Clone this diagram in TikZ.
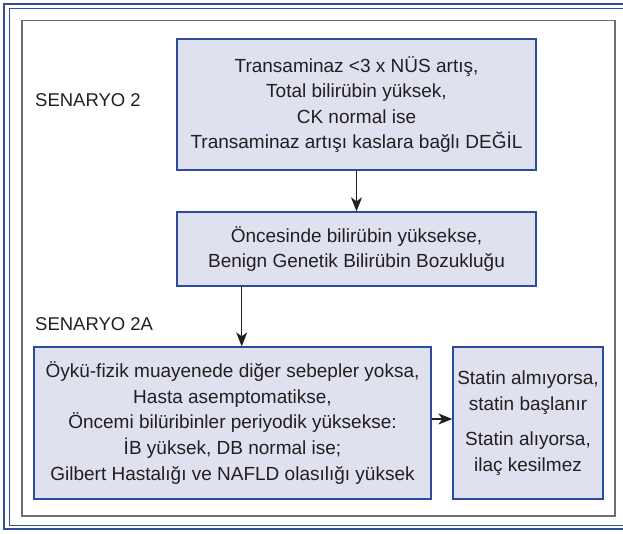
\documentclass[tikz,border=0pt]{standalone}
\usepackage{fontspec}
\setmainfont{Liberation Sans}
\usetikzlibrary{arrows.meta}
\definecolor{frameblue}{HTML}{2F4FA0}
\definecolor{boxblue}{HTML}{2C4A9E}
\definecolor{boxfill}{HTML}{DFE1EF}
\definecolor{panelgray}{HTML}{6E6E6E}
\definecolor{inktext}{HTML}{231F20}

\begin{document}
\begin{tikzpicture}[x=1pt,y=-1pt,
  box/.style={draw=boxblue, line width=1.3pt, fill=boxfill, inner sep=0pt,
    font=\fontsize{19}{25.6}\selectfont, align=center, text=inktext},
  label/.style={font=\fontsize{18.5}{20}\selectfont, text=inktext, inner sep=0pt},
  flow/.style={draw=inktext, line width=1.2pt,
    -{Stealth[length=14pt,width=11pt,inset=4pt]}}]
\useasboundingbox (0,0) rectangle (623,533);

% outer double frame, running off the right edge
\draw[frameblue, line width=2pt] (640,4.3) -- (4.3,4.3) -- (4.3,528.7) -- (640,528.7);
\draw[frameblue, line width=1pt] (640,8.3) -- (9,8.3) -- (9,525) -- (640,525);

% grey panel
\draw[panelgray, line width=1.4pt] (22,20.7) rectangle (615,516);

% scenario labels
\node[label, anchor=base west] (s2) at (35,106) {SENARYO 2};
\node[label, anchor=base west] (s2a) at (35,330.7) {SENARYO 2A};

% flow boxes
\node[box, minimum width=359pt, minimum height=131pt] (b1) at (356.5,104.5)
  {Transaminaz <3 x NÜS artış,\\ Total bilirübin yüksek,\\ CK normal ise\\ Transaminaz artışı kaslara bağlı DEĞİL};
\node[box, minimum width=359pt, minimum height=74pt] (b2) at (356.5,249)
  {Öncesinde bilirübin yüksekse,\\ Benign Genetik Bilirübin Bozukluğu};
\node[box, minimum width=397pt, minimum height=152pt] (b3) at (232.5,423)
  {Öykü-fizik muayenede diğer sebepler yoksa,\\ Hasta asemptomatikse,\\ Öncemi bilüribinler periyodik yüksekse:\\ İB yüksek, DB normal ise;\\ Gilbert Hastalığı ve NAFLD olasılığı yüksek};
\node[box, minimum width=150pt, minimum height=152pt] (b4) at (528,423)
  {Statin almıyorsa,\\ statin başlanır\\[10pt] Statin alıyorsa,\\ ilaç kesilmez};

% connectors
\coordinate (a2) at (241.7,0);
\coordinate (a3) at (0,419);
\draw[flow] (b1.south) -- (b2.north);
\draw[flow] (b2.south -| a2) -- (b3.north -| a2);
\draw[flow] (b3.east |- a3) -- (b4.west |- a3);
\end{tikzpicture}
\end{document}
